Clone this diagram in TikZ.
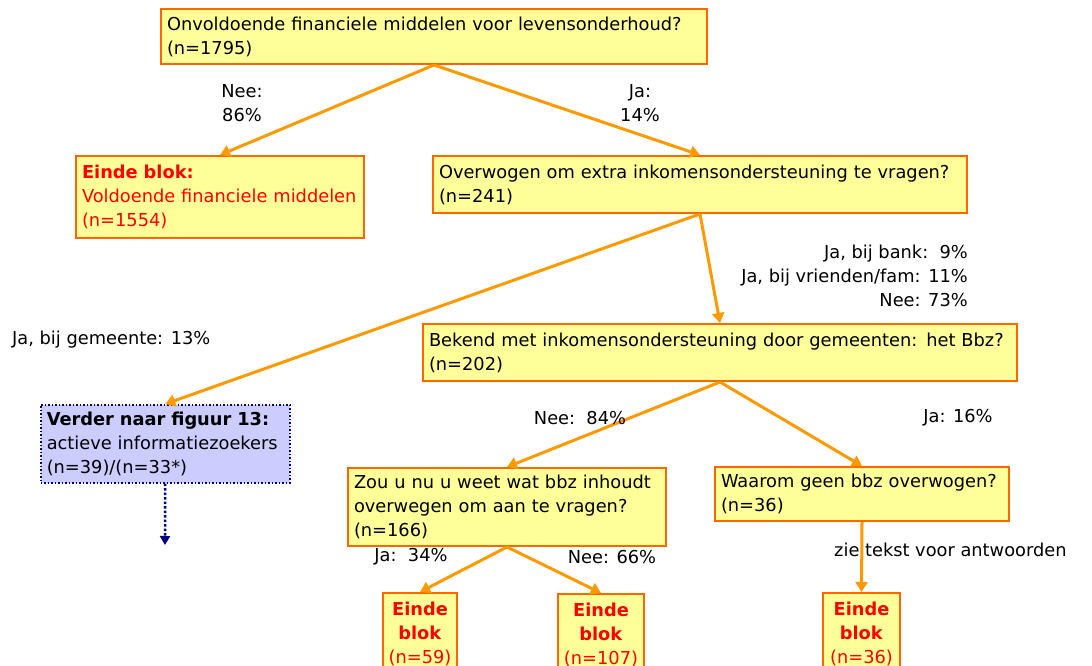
\documentclass[tikz,border=0pt]{standalone}
\usepackage{fontspec}
\setmainfont{DejaVu Sans}
\usetikzlibrary{arrows.meta}
\definecolor{vakgeel}{HTML}{FFFF99}
\definecolor{vakrand}{HTML}{FF6600}
\definecolor{pijloranje}{HTML}{FF9900}
\definecolor{eindrood}{HTML}{FF0000}
\definecolor{doorblauw}{HTML}{CCCCFF}
\definecolor{doorrand}{HTML}{000080}

\begin{document}
\begin{tikzpicture}[x=1pt, y=-1pt, font=\fontsize{17.8}{24}\selectfont,
    vraag/.style={draw=vakrand, line width=2pt, fill=vakgeel, anchor=north west, align=left, inner xsep=6pt, inner ysep=2pt},
    einde/.style={vraag, text=eindrood},
    eindeblok/.style={vraag, text=eindrood, align=center, inner xsep=3pt, minimum height=82pt},
    verder/.style={draw=doorrand, line width=1.5pt, dotted, fill=doorblauw, anchor=north west, align=left, inner xsep=6pt, inner ysep=2pt},
    pijl/.style={draw=pijloranje, line width=3pt, -{Triangle[width=12pt,length=10pt]}},
    tekst/.style={align=center, inner sep=0pt}]
    \clip (0,0) rectangle (1092,666);

    % Vragen
    \node[vraag, text width=534pt, minimum height=55pt] (onvoldoende) at (160,8) {Onvoldoende financiele middelen voor levensonderhoud?\\(n=1795)};
    \node[einde, text width=276pt, minimum height=82pt] (voldoende) at (75,155) {\textbf{Einde blok:}\\Voldoende financiele middelen\\(n=1554)};
    \node[vraag, text width=522pt, minimum height=57pt] (overwogen) at (432,155) {Overwogen om extra inkomensondersteuning te vragen?\\(n=241)};
    \node[vraag, text width=582pt, minimum height=57pt] (bekend) at (422,323) {Bekend met inkomensondersteuning door gemeenten: het Bbz?\\(n=202)};
    \node[verder, text width=237pt, minimum height=78pt] (figuur) at (40,404) {\textbf{Verder naar figuur 13:}\\actieve informatiezoekers\\(n=39)/(n=33*)};
    \node[vraag, text width=306pt, minimum height=78pt] (zou) at (347,467) {Zou u nu u weet wat bbz inhoudt\\overwegen om aan te vragen?\\(n=166)};
    \node[vraag, text width=282pt, minimum height=54pt] (waarom) at (714,466) {Waarom geen bbz overwogen?\\(n=36)};

    % Einde blok
    \node[eindeblok, text width=68pt] (eindeja) at (382,592) {\textbf{Einde}\\\textbf{blok}\\(n=59)};
    \node[eindeblok, text width=80pt] (eindenee) at (557,593) {\textbf{Einde}\\\textbf{blok}\\(n=107)};
    \node[eindeblok, text width=71pt] (eindewaarom) at (822,592) {\textbf{Einde}\\\textbf{blok}\\(n=36)};
    \coordinate (figuurpijl) at (165,545);

    % Verbindingen
    \draw[pijl] (onvoldoende.south) -- (voldoende.north);
    \draw[pijl] (onvoldoende.south) -- (overwogen.north);
    \draw[pijl] (overwogen.south) -- (figuur.north);
    \draw[pijl] (overwogen.south) -- (bekend.north);
    \draw[pijl] (bekend.south) -- (zou.north);
    \draw[pijl] (bekend.south) -- (waarom.north);
    \draw[pijl] (zou.south) -- (eindeja.north);
    \draw[pijl] (zou.south) -- (eindenee.north);
    \draw[pijl] (waarom.south) -- (eindewaarom.north);
    \draw[draw=doorrand, line width=2.5pt, dotted, -{Triangle[width=10pt,length=9pt]}] (figuur.south) -- (figuurpijl);

    % Percentages
    \node[tekst] (nee86) at (242,103) {Nee:\\86\%};
    \node[tekst] (ja14) at (640,103) {Ja:\\14\%};
    \node[tekst, anchor=west] (gemeente) at (12,340) {Ja, bij gemeente: 13\%};
    \node[tekst, anchor=east, align=right] (bank) at (968,276) {Ja, bij bank:\ \ 9\%\\Ja, bij vrienden/fam: 11\%\\Nee: 73\%};
    \node[tekst] (nee84) at (580,418) {Nee:\ \ 84\%};
    \node[tekst] (ja16) at (958,418) {Ja: 16\%};
    \node[tekst] (ja34) at (411,557) {Ja:\ \ 34\%};
    \node[tekst] (nee66) at (612,557) {Nee: 66\%};
    \node[tekst, anchor=west] (antwoorden) at (834,550) {zie tekst voor antwoorden};
\end{tikzpicture}
\end{document}
